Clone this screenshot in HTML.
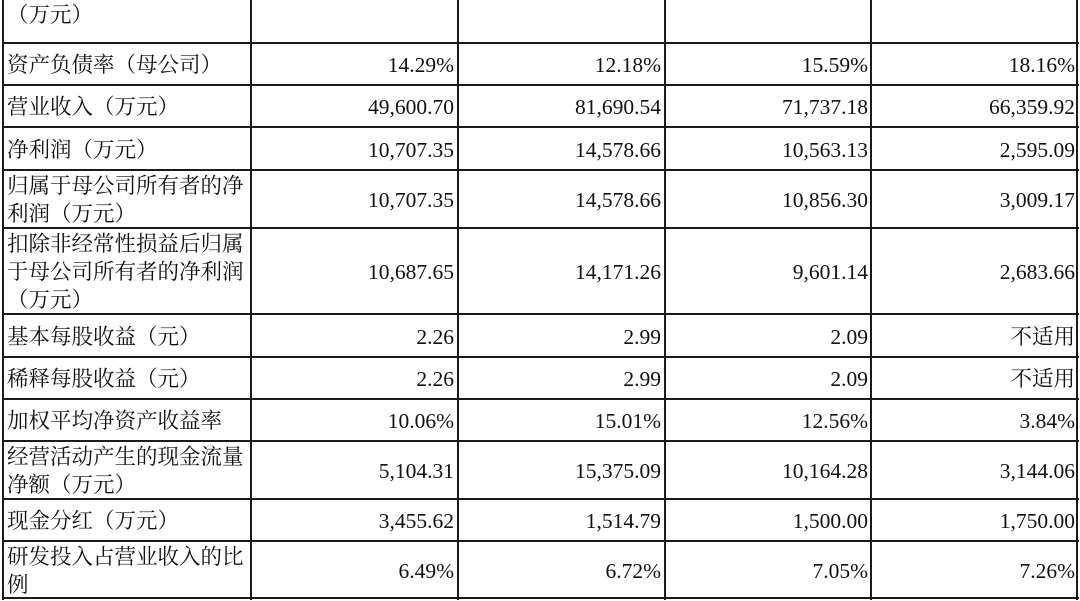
<!DOCTYPE html>
<html><head><meta charset="utf-8"><style>
body{margin:0;width:1080px;height:601px;background:#fff;overflow:hidden;position:relative;font-family:"Liberation Serif","Noto Serif CJK SC",serif;color:#111;}
.h{position:absolute;left:2px;width:1077px;height:2px;background:#1a1a1a}
.v{position:absolute;top:0;width:2px;height:600px;background:#1a1a1a}
.c{position:absolute;display:flex;align-items:center;font-size:21.5px;line-height:28px}
.l{left:7px;width:242px;justify-content:flex-start}
.n{justify-content:flex-end}
</style></head><body>
<div class="v" style="left:2px"></div><div class="v" style="left:250px"></div><div class="v" style="left:457px"></div><div class="v" style="left:664px"></div><div class="v" style="left:870px"></div><div class="v" style="left:1076px"></div>
<div class="h" style="top:42px"></div><div class="h" style="top:84px"></div><div class="h" style="top:126px"></div><div class="h" style="top:169px"></div><div class="h" style="top:227px"></div><div class="h" style="top:313px"></div><div class="h" style="top:356px"></div><div class="h" style="top:398px"></div><div class="h" style="top:440px"></div><div class="h" style="top:498px"></div><div class="h" style="top:540px"></div><div class="h" style="top:597px"></div>
<div class="c l" style="top:0;height:30px">（万元）</div>
<div id="rows"></div>
<script>
var R=[[43,85,"资产负债率（母公司）","14.29%","12.18%","15.59%","18.16%"],
[85,127,"营业收入（万元）","49,600.70","81,690.54","71,737.18","66,359.92"],
[127,170,"净利润（万元）","10,707.35","14,578.66","10,563.13","2,595.09"],
[170,228,"归属于母公司所有者的净<br>利润（万元）","10,707.35","14,578.66","10,856.30","3,009.17"],
[228,314,"扣除非经常性损益后归属<br>于母公司所有者的净利润<br>（万元）","10,687.65","14,171.26","9,601.14","2,683.66"],
[314,357,"基本每股收益（元）","2.26","2.99","2.09","不适用"],
[357,399,"稀释每股收益（元）","2.26","2.99","2.09","不适用"],
[399,441,"加权平均净资产收益率","10.06%","15.01%","12.56%","3.84%"],
[441,499,"经营活动产生的现金流量<br>净额（万元）","5,104.31","15,375.09","10,164.28","3,144.06"],
[499,541,"现金分红（万元）","3,455.62","1,514.79","1,500.00","1,750.00"],
[541,598,"研发投入占营业收入的比<br>例","6.49%","6.72%","7.05%","7.26%"]];
var L=[252,459,666,872],Rt=[454,661,868,1075],h="";
R.forEach(function(r){var t=r[0]+2,hh=r[1]-r[0]-2;
h+='<div class="c l" style="top:'+t+'px;height:'+hh+'px"><div>'+r[2]+'</div></div>';
for(var i=0;i<4;i++)h+='<div class="c n" style="top:'+t+'px;height:'+hh+'px;left:'+L[i]+'px;width:'+(Rt[i]-L[i])+'px">'+r[3+i]+'</div>';});
document.getElementById("rows").innerHTML=h;
</script>
</body></html>
